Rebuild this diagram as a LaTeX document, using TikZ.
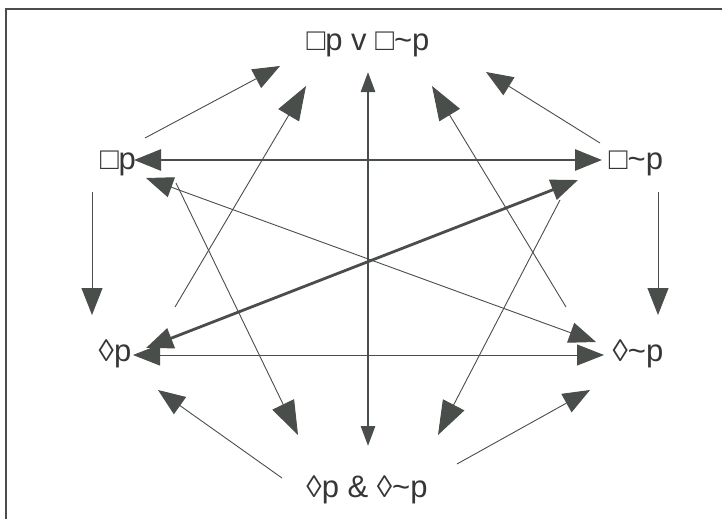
\documentclass[tikz,border=0pt]{standalone}
\usepackage{fontspec}
\setmainfont{Liberation Sans}
\usetikzlibrary{arrows.meta}
\definecolor{ink}{HTML}{4A4E4A}
\newcommand{\tld}{\textasciitilde}
\tikzset{
  lbl/.style={font=\fontsize{31}{36}\selectfont, inner sep=0pt, text=ink!70!black},
  thin/.style={draw=ink, line width=0.9pt},
  thick/.style={draw=ink, line width=2.8pt},
  tip/.style={-{Triangle[length=27pt,width=21pt,fill=ink]}},
  bigtip/.style={-{Triangle[length=34pt,width=24pt,fill=ink]}},
  both/.style={{Triangle[length=27pt,width=21pt,fill=ink]}-{Triangle[length=27pt,width=21pt,fill=ink]}},
  smallboth/.style={{Triangle[length=20pt,width=14pt,fill=ink]}-{Triangle[length=20pt,width=14pt,fill=ink]}},
}
\begin{document}
\begin{tikzpicture}[x=1pt,y=-1pt]
\useasboundingbox (0,0) rectangle (722,519);
\fill[white] (0,0) rectangle (722,519);
\draw[ink, line width=2pt] (6,519) -- (6,9) -- (722,9);

\node[lbl] (top) at (368,44) {□p v □\tld p};
\node[lbl] (bp) at (118,163) {□p};
\node[lbl] (bnp) at (636,163) {□\tld p};
\node[lbl] (dp) at (115,354) {◊p};
\node[lbl] (dnp) at (638,354) {◊\tld p};
\node[lbl] (bot) at (367,490) {◊p \& ◊\tld p};

% endpoints
\coordinate (a1s) at (145,138); \coordinate (a1e) at (280,66);
\coordinate (a2s) at (600,143); \coordinate (a2e) at (486,72);
\coordinate (a3s) at (134,160); \coordinate (a3e) at (602,160);
\coordinate (a4s) at (92,192);  \coordinate (a4e) at (92,315);
\coordinate (a5s) at (658,192); \coordinate (a5e) at (658,315);
\coordinate (a6s) at (133,355); \coordinate (a6e) at (604,355);
\coordinate (a7s) at (282,478); \coordinate (a7e) at (158,390);
\coordinate (a8s) at (457,464); \coordinate (a8e) at (590,390);
\coordinate (a9s) at (368,72);  \coordinate (a9e) at (368,446);
\coordinate (a10s) at (175,307); \coordinate (a10e) at (306,86);
\coordinate (a11s) at (566,307); \coordinate (a11e) at (432,86);
\coordinate (a12s) at (176,183); \coordinate (a12e) at (298,435);
\coordinate (a13s) at (560,200); \coordinate (a13e) at (438,435);
\coordinate (a14s) at (146,178); \coordinate (a14e) at (596,342);
\coordinate (a15s) at (578,180); \coordinate (a15e) at (146,348);

\draw[thin, tip] (a1s) -- (a1e);
\draw[thin, tip] (a2s) -- (a2e);
\draw[thick, both] (a3s) -- (a3e);
\draw[thin, tip] (a4s) -- (a4e);
\draw[thin, tip] (a5s) -- (a5e);
\draw[thin, both] (a6s) -- (a6e);
\draw[thin, tip] (a7s) -- (a7e);
\draw[thin, tip] (a8s) -- (a8e);
\draw[thick, smallboth] (a9s) -- (a9e);
\draw[thin, bigtip] (a10s) -- (a10e);
\draw[thin, bigtip] (a11s) -- (a11e);
\draw[thin, bigtip] (a12s) -- (a12e);
\draw[thin, bigtip] (a13s) -- (a13e);
\draw[thin, both] (a14s) -- (a14e);
\draw[thick, both] (a15s) -- (a15e);
\end{tikzpicture}
\end{document}
